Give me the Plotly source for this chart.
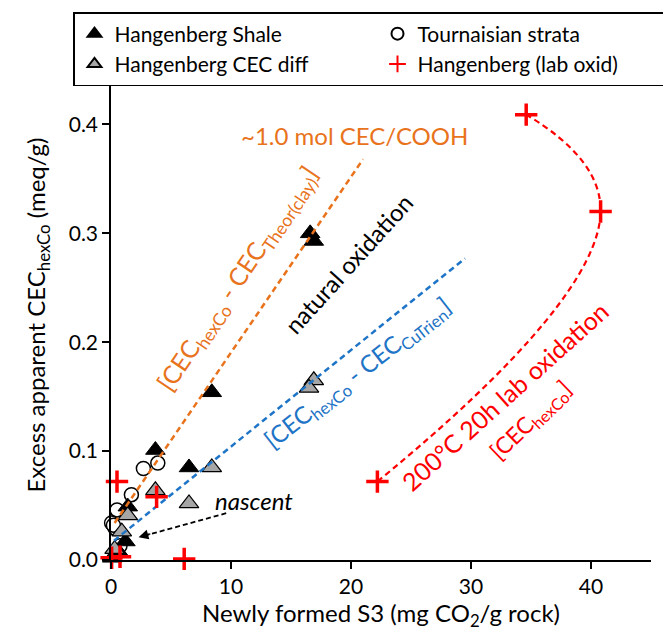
import plotly.graph_objects as go

# ---- data ----
shale_x = [16.6, 16.9, 8.4, 3.7, 6.5, 1.4, 1.2, 0.1, 0.6]
shale_y = [0.300, 0.293, 0.154, 0.101, 0.085, 0.049, 0.017, 0.002, 0.008]

diff_x = [16.9, 16.5, 8.4, 3.7, 6.5, 1.4, 0.9, 0.3]
diff_y = [0.165, 0.158, 0.085, 0.064, 0.052, 0.041, 0.026, 0.010]

tourn_x = [3.9, 2.7, 1.7, 0.5, 0.05, 0.35, -0.1, 0.75, -0.2, 0.2]
tourn_y = [0.089, 0.084, 0.060, 0.046, 0.034, 0.029, 0.023, 0.013, 0.015, 0.032]

lab_x = [0.5, 3.8, 6.1, 0.05, 0.75, 22.2, 40.8, 34.6]
lab_y = [0.072, 0.058, 0.001, 0.002, 0.003, 0.072, 0.320, 0.409]
lab_curve_idx = [5, 6, 7]   # points joined by the 200 °C lab-oxidation curve

orange_x = [0.3, 21.0]
orange_y = [0.034, 0.368]
blue_x = [-0.4, 29.5]
blue_y = [0.012, 0.277]

x_ticks = [0, 10, 20, 30, 40]
y_ticks = [0.0, 0.1, 0.2, 0.3, 0.4]

ORANGE = "#E8731C"
BLUE = "#1E74C6"
RED = "#FF0000"
FONT = "Lato"

W, H = 663, 633
ML, MR, MT, MB = 111, 12, 70, 73

fig = go.Figure()

fig.add_trace(go.Scatter(
    x=tourn_x, y=tourn_y, mode="markers", name="Tournaisian strata",
    marker=dict(symbol="circle", size=14, color="white",
                line=dict(color="black", width=1.5)),
    cliponaxis=False, legendrank=2))

fig.add_trace(go.Scatter(
    x=shale_x, y=shale_y, mode="markers", name="Hangenberg Shale",
    marker=dict(symbol="triangle-up", size=17, color="black",
                line=dict(color="black", width=1)),
    cliponaxis=False, legendrank=1))

fig.add_trace(go.Scatter(
    x=diff_x, y=diff_y, mode="markers", name="Hangenberg CEC diff",
    marker=dict(symbol="triangle-up", size=17, color="#A6A6A6",
                line=dict(color="black", width=1.2)),
    cliponaxis=False, legendrank=3))

fig.add_trace(go.Scatter(
    x=orange_x, y=orange_y, mode="lines", showlegend=False,
    line=dict(color=ORANGE, width=2.5, dash="6px,4px"), cliponaxis=False))

fig.add_trace(go.Scatter(
    x=blue_x, y=blue_y, mode="lines", showlegend=False,
    line=dict(color=BLUE, width=2.5, dash="6px,4px"), cliponaxis=False))

fig.add_trace(go.Scatter(
    x=[lab_x[i] for i in lab_curve_idx], y=[lab_y[i] for i in lab_curve_idx],
    mode="lines", showlegend=False, line_shape="spline",
    line=dict(color=RED, width=2.2, dash="6px,4px", smoothing=1.3),
    cliponaxis=False))

fig.add_trace(go.Scatter(
    x=lab_x, y=lab_y, mode="markers", name="Hangenberg (lab oxid)",
    marker=dict(symbol="cross-thin", size=16, color=RED,
                line=dict(color=RED, width=3.5)),
    cliponaxis=False, legendrank=4))

# dashed arrow for "nascent"
fig.add_shape(type="line", x0=9.6, y0=0.043, x1=2.9, y1=0.0226,
              line=dict(color="black", width=1.8, dash="5px,3px"))
fig.add_annotation(x=2.3, y=0.021, ax=3.4, ay=0.0244, axref="x", ayref="y",
                   xref="x", yref="y", text="", showarrow=True,
                   arrowhead=2, arrowsize=1.3, arrowwidth=1.5, arrowcolor="black")

def ann(text, x, y, angle, color, size=20, italic=False):
    fig.add_annotation(x=x, y=y, xref="x", yref="y", text=text, showarrow=False,
                       textangle=angle, xanchor="center", yanchor="middle",
                       font=dict(family=FONT, size=size, color=color,
                                 style="italic" if italic else "normal"))

ann("~1.0 mol CEC/COOH", 20.3, 0.390, 0, ORANGE, 24)
ann("[CEC<sub>hexCo</sub> - CEC<sub>Theor(clay)</sub>]", 10.6, 0.258, -56, ORANGE, 25)
ann("natural oxidation", 19.8, 0.272, -48, "black", 24)
ann("[CEC<sub>hexCo</sub> - CEC<sub>CuTrien</sub>]", 20.6, 0.171, -38, BLUE, 24)
ann("200°C 20h lab oxidation", 32.8, 0.151, -42, RED, 25)
ann("[CEC<sub>hexCo</sub>]", 35.0, 0.128, -44, RED, 23)
ann("nascent", 11.9, 0.055, 0, "black", 24, italic=True)

axis_common = dict(showline=True, linecolor="black", linewidth=1.5,
                   ticks="outside", ticklen=7, tickwidth=1.5, tickcolor="black",
                   showgrid=False, zeroline=False, mirror=False,
                   tickfont=dict(family=FONT, size=21, color="black"))

plot_w = W - ML - MR
plot_h = H - MT - MB

fig.update_layout(
    width=W, height=H,
    margin=dict(l=ML, r=MR, t=MT, b=MB, autoexpand=False),
    paper_bgcolor="white", plot_bgcolor="white",
    font=dict(family=FONT, color="black"),
    xaxis=dict(range=[0, 45], tickvals=x_ticks, ticktext=[str(v) for v in x_ticks],
               title=dict(text="Newly formed S3 (mg CO<sub>2</sub>/g rock)",
                          font=dict(family=FONT, size=24), standoff=6),
               automargin=False, **axis_common),
    yaxis=dict(range=[0, 0.45], tickvals=y_ticks, ticktext=[f"{v:.1f}" for v in y_ticks],
               title=dict(text="Excess apparent CEC<sub>hexCo</sub> (meq/g)",
                          font=dict(family=FONT, size=24), standoff=16),
               automargin=False, **axis_common),
    legend=dict(orientation="h", xref="paper", yref="paper",
                x=(73 - ML) / plot_w, y=(H - MB - 12) / plot_h,
                xanchor="left", yanchor="top",
                bgcolor="white", bordercolor="black", borderwidth=1.5,
                entrywidth=258, entrywidthmode="pixels",
                font=dict(family=FONT, size=21, color="black"),
                itemsizing="constant", tracegroupgap=0),
    showlegend=True,
)

fig.write_html("out.html")
